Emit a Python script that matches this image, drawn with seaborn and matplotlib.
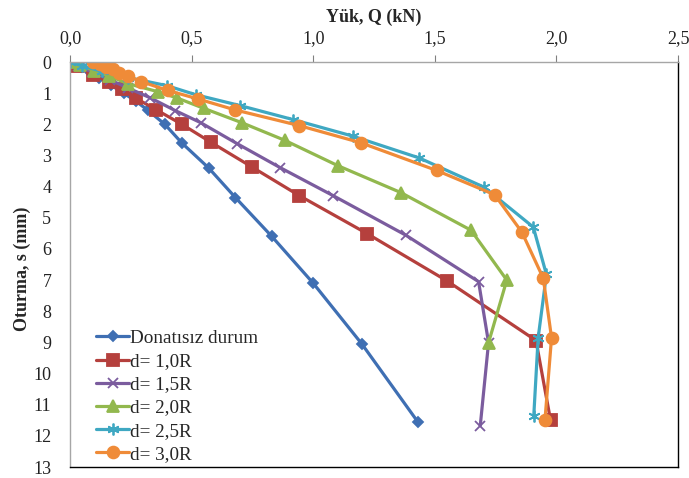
import matplotlib
matplotlib.use("Agg")
import matplotlib.pyplot as plt
import seaborn as sns
import pandas as pd

series_names = ["Donatısız durum", "d= 1,0R", "d= 1,5R", "d= 2,0R", "d= 2,5R", "d= 3,0R"]

q_donatisiz = [0, 0.02, 0.05, 0.08, 0.12, 0.17, 0.22, 0.27, 0.32, 0.39, 0.46, 0.57, 0.68, 0.83, 1.0, 1.2, 1.43]
s_donatisiz = [0, 0.05, 0.15, 0.3, 0.5, 0.75, 1.0, 1.25, 1.55, 2.0, 2.6, 3.4, 4.35, 5.6, 7.1, 9.05, 11.55]

q_d10 = [0, 0.03, 0.094, 0.16, 0.215, 0.27, 0.354, 0.46, 0.578, 0.748, 0.943, 1.222, 1.551, 1.916, 1.976]
s_d10 = [0, 0.13, 0.41, 0.64, 0.87, 1.16, 1.53, 2.0, 2.57, 3.37, 4.29, 5.51, 7.03, 8.94, 11.5]

q_d15 = [0, 0.033, 0.09, 0.163, 0.237, 0.33, 0.433, 0.538, 0.687, 0.864, 1.082, 1.381, 1.68, 1.721, 1.687]
s_d15 = [0, 0.13, 0.32, 0.57, 0.83, 1.15, 1.56, 1.95, 2.62, 3.39, 4.29, 5.56, 7.05, 9.01, 11.67]

q_d20 = [0, 0.04, 0.1, 0.16, 0.24, 0.36, 0.442, 0.551, 0.707, 0.882, 1.102, 1.36, 1.649, 1.796, 1.721]
s_d20 = [0, 0.1, 0.28, 0.45, 0.7, 0.95, 1.16, 1.49, 1.95, 2.51, 3.33, 4.19, 5.4, 7.0, 9.01]

q_d25 = [0, 0.05, 0.13, 0.24, 0.399, 0.517, 0.70, 0.918, 1.163, 1.436, 1.703, 1.905, 1.959, 1.925, 1.907]
s_d25 = [0, 0.12, 0.3, 0.5, 0.76, 1.05, 1.40, 1.85, 2.38, 3.08, 4.02, 5.30, 6.82, 8.85, 11.35]

q_d30 = [0.095, 0.122, 0.15, 0.177, 0.201, 0.238, 0.293, 0.401, 0.528, 0.68, 0.942, 1.195, 1.507, 1.746, 1.858, 1.946, 1.98, 1.953]
s_d30 = [0.0, 0.06, 0.15, 0.23, 0.34, 0.45, 0.63, 0.91, 1.19, 1.54, 2.04, 2.59, 3.48, 4.26, 5.46, 6.94, 8.85, 11.49]

x_ticks = [0.0, 0.5, 1.0, 1.5, 2.0, 2.5]
x_tick_labels = ["0,0", "0,5", "1,0", "1,5", "2,0", "2,5"]
y_ticks = list(range(0, 14))

all_q = [q_donatisiz, q_d10, q_d15, q_d20, q_d25, q_d30]
all_s = [s_donatisiz, s_d10, s_d15, s_d20, s_d25, s_d30]

colors = ["#3F6FB3", "#B5403D", "#7B5C9E", "#92B84E", "#3FA8C2", "#EF8B38"]
markers = ["D", "s", "x", "^", (6, 2, 0), "o"]
msizes = [5.5, 8, 7.5, 8, 8.5, 8.5]

sns.set_theme(style="white")
plt.rcParams["font.family"] = ["Liberation Serif", "DejaVu Serif"]

fig = plt.figure(figsize=(6.89, 4.78), dpi=100)
ax_bottom_px, ax_top_px = 467, 62
ax = fig.add_axes([70 / 689, 1 - ax_bottom_px / 478, 608 / 689, (ax_bottom_px - ax_top_px) / 478])

for name, q, s, c, m, ms in zip(series_names, all_q, all_s, colors, markers, msizes):
    df = pd.DataFrame({"Q": q, "s": s})
    sns.lineplot(data=df, x="Q", y="s", sort=False, ax=ax, color=c, linewidth=2.3,
                 marker=m, markersize=ms, markeredgecolor=c, markerfacecolor=c,
                 markeredgewidth=1.3, label=name, estimator=None)

ax.set_xlim(0, 2.5)
ax.set_ylim(13, 0)
ax.set_xticks(x_ticks)
ax.set_xticklabels(x_tick_labels)
ax.set_yticks(y_ticks)
ax.xaxis.set_ticks_position("top")
ax.xaxis.set_label_position("top")
ax.tick_params(axis="both", labelsize=13, length=5, width=0.8)
ax.tick_params(axis="x", colors="#808080", labelcolor="#222222", pad=6)
ax.tick_params(axis="y", colors="#808080", labelcolor="#222222", pad=8.5)
ax.set_xlabel("Yük, Q (kN)", fontsize=13, fontweight="bold")
ax.set_ylabel("Oturma, s (mm)", fontsize=13, fontweight="bold")
ax.xaxis.set_label_coords(0.5, 1.10)
ax.yaxis.set_label_coords(-0.064, 0.49)

for side in ["left", "top"]:
    ax.spines[side].set_color("#A6A6A6")
    ax.spines[side].set_linewidth(1.0)
for side in ["right", "bottom"]:
    ax.spines[side].set_color("#000000")
    ax.spines[side].set_linewidth(1.0)
ax.grid(False)

leg = ax.legend(loc="upper left", bbox_to_anchor=(0.03, 0.358), frameon=False,
                fontsize=13.8, handlelength=1.75, handletextpad=0.05, labelspacing=0.3,
                borderaxespad=0.0, borderpad=0.4)

fig.savefig("out.png", dpi=100)
